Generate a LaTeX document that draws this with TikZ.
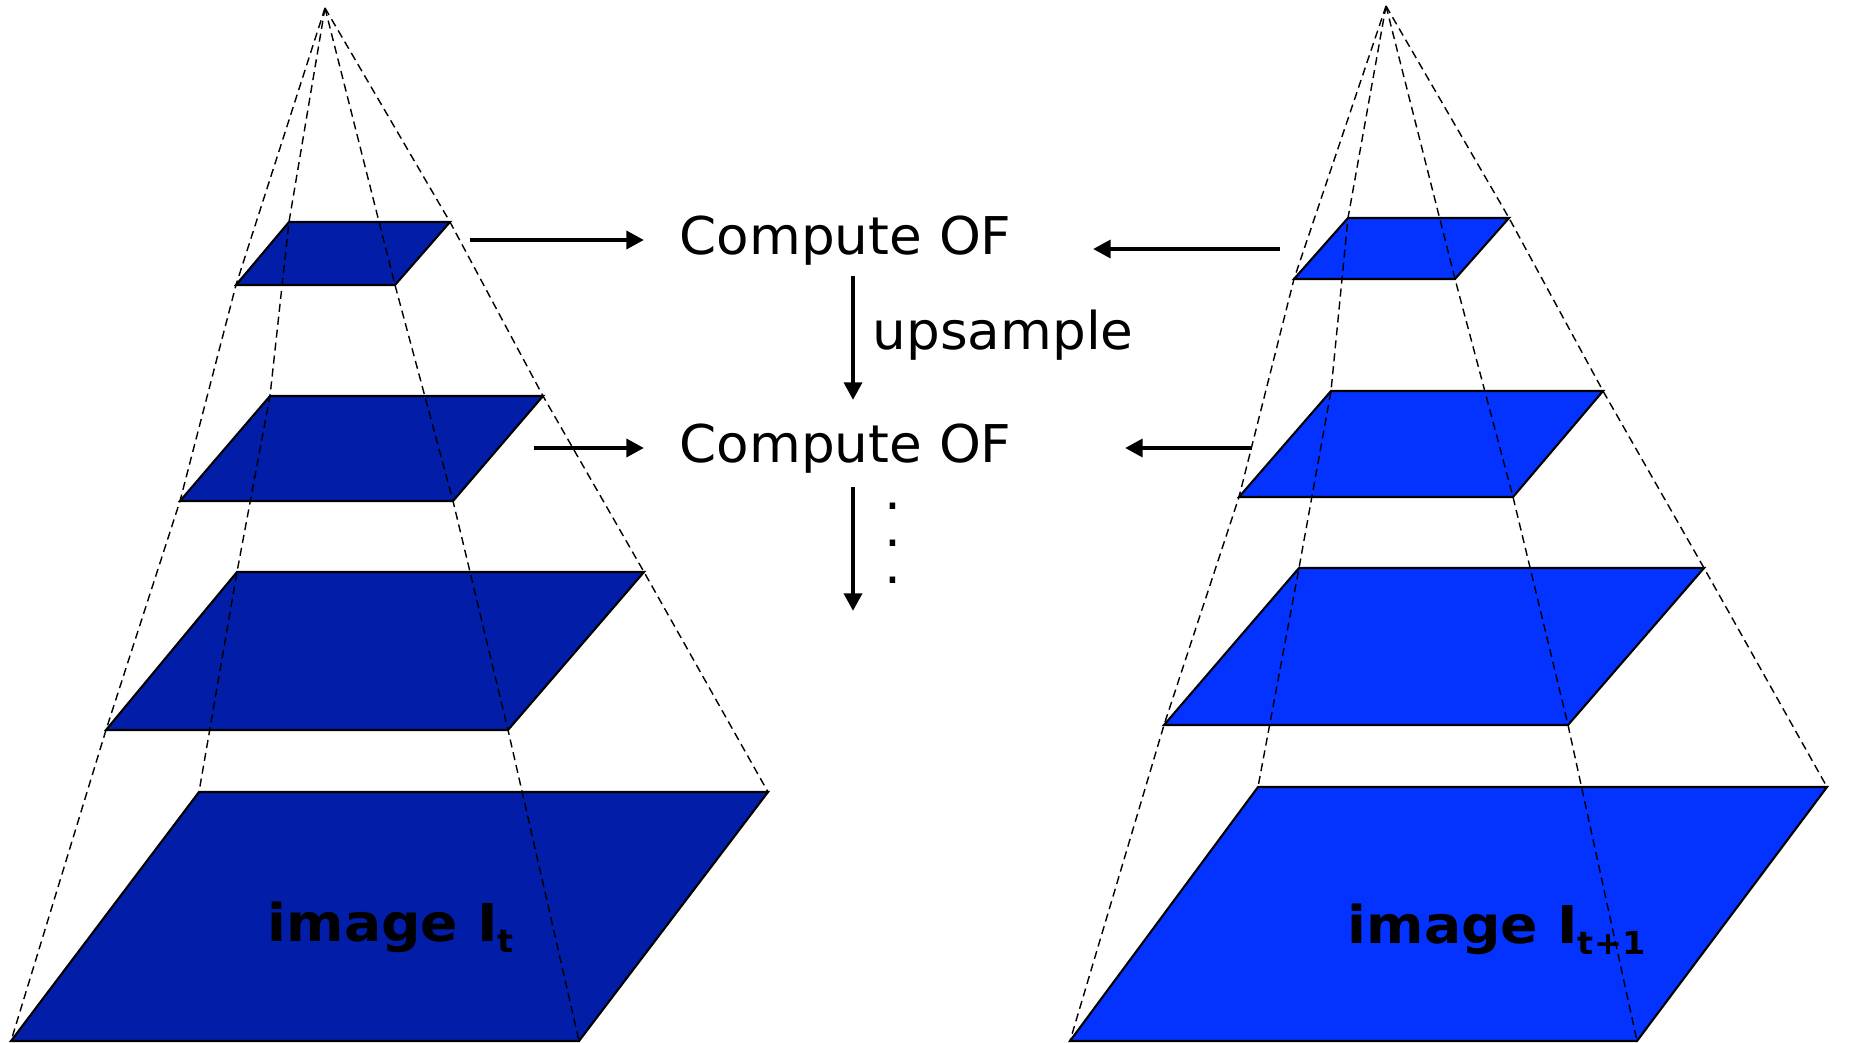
\documentclass[tikz,border=0pt]{standalone}
\usepackage{fontspec}
\setmainfont{DejaVu Sans}
\newfontfamily\ofsans[FakeStretch=1.022]{DejaVu Sans}
\newfontfamily\imgsans[FakeStretch=1.06]{DejaVu Sans}
\usepackage{tikz}
\usetikzlibrary{arrows.meta, positioning, calc}
\definecolor{darkblue}{HTML}{021EA8}
\definecolor{brightblue}{HTML}{0433FF}

\tikzset{
  layer/.style={draw=black, line width=0.6pt, line join=miter},
  guide/.style={draw=black, line width=0.4pt, dash pattern=on 2.3pt off 1.4pt},
  flow/.style={line width=1.4pt, -{Triangle[length=5pt, width=5pt]}},
  oftext/.style={font=\ofsans\fontsize{14.8pt}{18pt}\selectfont, inner sep=0pt, anchor=base west},
  imgtext/.style={font=\imgsans\fontsize{14.8pt}{18pt}\selectfont\bfseries, inner sep=0pt, anchor=base west},
}
\newcommand{\imgsub}[1]{\raisebox{-3.4pt}{\fontsize{9pt}{9pt}\selectfont #1}}

\begin{document}
\begin{tikzpicture}[x=0.01cm, y=-0.01cm]
  \useasboundingbox (0,0) rectangle (1857,1043);

  % left pyramid, image I_t
  \coordinate (apexL) at (325,8);
  \filldraw[layer, fill=darkblue] (289,222) -- (450,222) -- (395,285) -- (236,285) -- cycle;
  \filldraw[layer, fill=darkblue] (270,396) -- (543,396) -- (453,501) -- (180,501) -- cycle;
  \filldraw[layer, fill=darkblue] (237,572) -- (644,572) -- (508,730) -- (106,730) -- cycle;
  \filldraw[layer, fill=darkblue] (199,792) -- (768,792) -- (579,1041) -- (11,1041) -- cycle;
  \draw[guide] (apexL) -- (236,285) -- (180,501) -- (106,730) -- (11,1041);
  \draw[guide] (apexL) -- (289,222) -- (270,396) -- (237,572) -- (199,792);
  \draw[guide] (apexL) -- (395,285) -- (453,501) -- (508,730) -- (579,1041);
  \draw[guide] (apexL) -- (450,222) -- (543,396) -- (644,572) -- (768,792);

  % right pyramid, image I_{t+1}
  \coordinate (apexR) at (1386,6);
  \filldraw[layer, fill=brightblue] (1348,218) -- (1509,218) -- (1455,279) -- (1294,279) -- cycle;
  \filldraw[layer, fill=brightblue] (1331,391) -- (1603,391) -- (1513,497) -- (1239,497) -- cycle;
  \filldraw[layer, fill=brightblue] (1299,568) -- (1704,568) -- (1568,725) -- (1164,725) -- cycle;
  \filldraw[layer, fill=brightblue] (1258,787) -- (1827,787) -- (1637,1041) -- (1070,1041) -- cycle;
  \draw[guide] (apexR) -- (1294,279) -- (1239,497) -- (1164,725) -- (1070,1041);
  \draw[guide] (apexR) -- (1348,218) -- (1331,391) -- (1299,568) -- (1258,787);
  \draw[guide] (apexR) -- (1455,279) -- (1513,497) -- (1568,725) -- (1637,1041);
  \draw[guide] (apexR) -- (1509,218) -- (1603,391) -- (1704,568) -- (1827,787);

  % labels
  \node[imgtext] (imgL) at (267,941) {image I\imgsub{t}};
  \node[imgtext] (imgR) at (1347,943) {image I\imgsub{t+1}};

  \node[oftext] (of1) at (679,255) {Compute OF};
  \node[oftext] (of2) at (679,463) {Compute OF};
  \node[oftext] (up) at (872,350) {upsample};
  \node[oftext, align=center, font=\ofsans\fontsize{14.8pt}{10.5pt}\selectfont, anchor=center] (dots) at (893,543) {.\\.\\.};

  % connectors
  \coordinate (fromL1) at (470,240);
  \coordinate (toL1) at (644,240);
  \coordinate (fromL2) at (534,448);
  \coordinate (toL2) at (644,448);
  \coordinate (fromR1) at (1280,249);
  \coordinate (toR1) at (1093,249);
  \coordinate (fromR2) at (1252,448);
  \coordinate (toR2) at (1125,448);
  \coordinate (down1a) at (853,276);
  \coordinate (down1b) at (853,400);
  \coordinate (down2a) at (853,487);
  \coordinate (down2b) at (853,611);
  \draw[flow] (fromL1) -- (toL1);
  \draw[flow] (fromL2) -- (toL2);
  \draw[flow] (fromR1) -- (toR1);
  \draw[flow] (fromR2) -- (toR2);
  \draw[flow] (down1a) -- (down1b);
  \draw[flow] (down2a) -- (down2b);
\end{tikzpicture}
\end{document}
